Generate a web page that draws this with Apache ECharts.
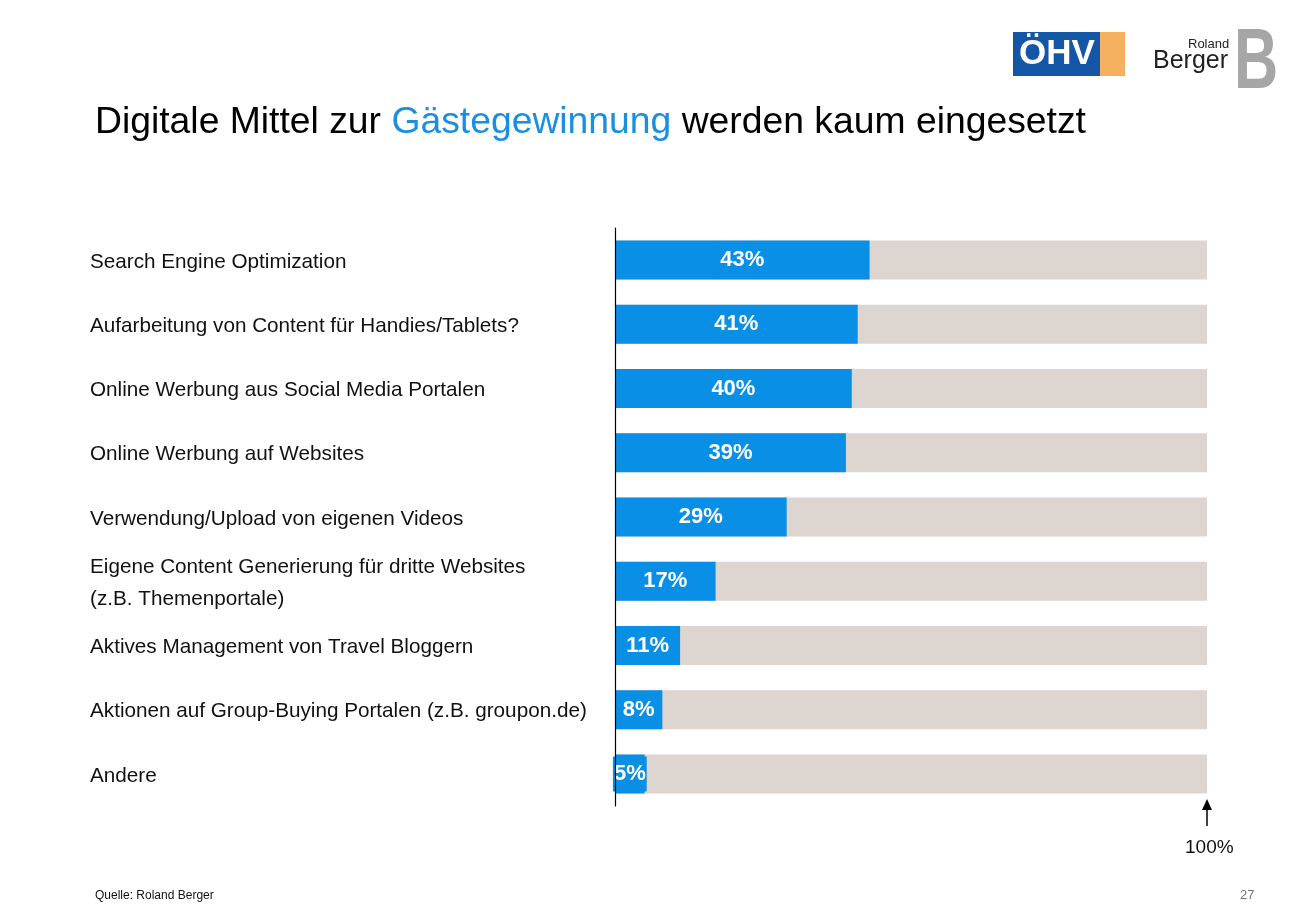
<!DOCTYPE html>
<html>
<head>
<meta charset="utf-8">
<script src="https://cdn.jsdelivr.net/npm/echarts@6/dist/echarts.min.js"></script>
<style>
html,body{margin:0;padding:0;background:#fff;}
#c{width:1306px;height:906px;}
</style>
</head>
<body>
<div id="c"></div>
<script>
const categories = [
  "Search Engine Optimization",
  "Aufarbeitung von Content für Handies/Tablets?",
  "Online Werbung aus Social Media Portalen",
  "Online Werbung auf Websites",
  "Verwendung/Upload von eigenen Videos",
  "Eigene Content Generierung für dritte Websites\n(z.B. Themenportale)",
  "Aktives Management von Travel Bloggern",
  "Aktionen auf Group-Buying Portalen (z.B. groupon.de)",
  "Andere"
];
const values = [43, 41, 40, 39, 29, 17, 11, 8, 5];
const maxValue = 100;

const chart = echarts.init(document.getElementById('c'));
const BLUE = '#0a8fe6';
const font = "'Liberation Sans', Arial, sans-serif";
chart.setOption({
  backgroundColor: '#ffffff',
  animation: false,
  title: {
    text: '{k|Digitale Mittel zur }{b|Gästegewinnung}{k| werden kaum eingesetzt}',
    left: 90, top: 99,
    textStyle: {
      fontWeight: 'normal',
      rich: {
        k: { fontSize: 37.3, color: '#000', fontFamily: font, fontWeight: 'normal' },
        b: { fontSize: 37.3, color: '#1a8fe0', fontFamily: font, fontWeight: 'normal' }
      }
    }
  },
  grid: { left: 615, right: 99, top: 228, bottom: 100, containLabel: false },
  xAxis: {
    type: 'value', min: 0, max: maxValue,
    show: false
  },
  yAxis: {
    type: 'category', data: categories, inverse: true,
    z: 5,
    axisLine: { show: true, lineStyle: { color: '#000', width: 1.2 } },
    axisTick: { show: false },
    axisLabel: {
      align: 'left', margin: 525, color: '#111',
      formatter: function (v) {
        return v.split('\n').map(function (l) { return '{a|' + l + '}'; }).join('\n');
      },
      rich: {
        a: { fontSize: 20.7, color: '#111', fontFamily: font, lineHeight: 32, padding: [4, 0, 0, 0] }
      }
    }
  },
  series: [{
    type: 'bar', data: values, barWidth: 39,
    itemStyle: { color: BLUE },
    showBackground: true,
    backgroundStyle: { color: '#ddd5cf' },
    label: {
      show: true, position: 'inside', formatter: '{c}%',
      color: '#fff', fontWeight: 'bold', fontSize: 22,
      fontFamily: font,
      backgroundColor: BLUE, padding: [9, 1, 4, 1]
    }
  }],
  graphic: [
    // ÖHV logo
    { type: 'rect', left: 1013, top: 32, shape: { width: 88, height: 44 }, style: { fill: '#1456a6' } },
    { type: 'rect', left: 1100, top: 32, shape: { width: 25, height: 44 }, style: { fill: '#f5b060' } },
    { type: 'text', left: 1019, top: 37, style: { text: 'ÖHV', fill: '#fff', font: "bold 35px 'Liberation Sans', Arial" } },
    // Roland Berger logo
    { type: 'text', left: 1188, top: 38, style: { text: 'Roland', fill: '#222', font: "13px 'Liberation Sans', Arial" } },
    { type: 'text', left: 1153, top: 49, style: { text: 'Berger', fill: '#222', font: "25px 'Liberation Sans', Arial" } },
    { type: 'text', x: 1234, y: 22, scaleX: 0.72, style: { text: 'B', font: "bold 85px 'Liberation Sans', Arial", fill: '#a6a6a6' } },
    // 100% arrow
    { type: 'line', shape: { x1: 1207, y1: 826, x2: 1207, y2: 806 }, style: { stroke: '#000', lineWidth: 1.5 } },
    { type: 'polygon', shape: { points: [[1202, 810], [1212, 810], [1207, 799]] }, style: { fill: '#000' } },
    { type: 'text', left: 1185, top: 838, style: { text: '100%', fill: '#111', font: "19px 'Liberation Sans', Arial" } },
    // footer
    { type: 'text', left: 95, top: 890, style: { text: 'Quelle: Roland Berger', fill: '#111', font: "12px 'Liberation Sans', Arial" } },
    { type: 'text', left: 1240, top: 889, style: { text: '27', fill: '#777', font: "13px 'Liberation Sans', Arial" } }
  ]
});
</script>
</body>
</html>
